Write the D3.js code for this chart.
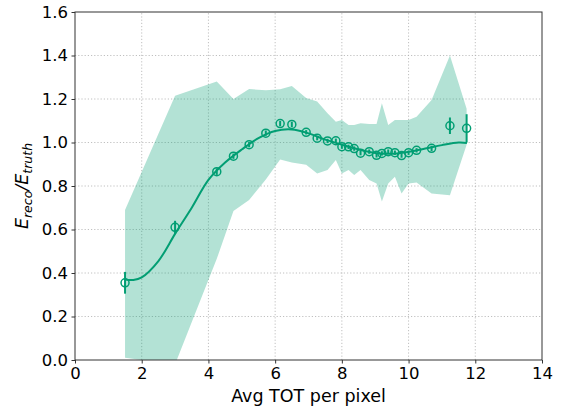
<!DOCTYPE html>
<html>
<head>
<meta charset="utf-8">
<script src="https://cdn.jsdelivr.net/npm/d3@7"></script>
<style>
  body { margin: 0; background: #ffffff; }
  text { font-family: "DejaVu Sans", sans-serif; fill: #000000; }
  .grid line { stroke: #b0b0b0; stroke-width: 0.8; stroke-dasharray: 1.2, 2; }
  .axis path, .axis line { stroke: #333333; }
  .axis text { font-size: 16.5px; }
</style>
</head>
<body>
<div id="chart"></div>
<script>

/// data

// measured points (mean ratio + error)
const pointX   = [1.5, 3.0, 4.25, 4.75, 5.22, 5.72, 6.15, 6.5, 6.93, 7.26, 7.57, 7.82, 8.0, 8.2, 8.37, 8.56, 8.82, 9.04, 9.2, 9.39, 9.59, 9.79, 10.0, 10.24, 10.69, 11.24, 11.74];
const pointY   = [0.355, 0.61, 0.866, 0.937, 0.99, 1.043, 1.087, 1.083, 1.047, 1.02, 1.007, 1.008, 0.981, 0.98, 0.972, 0.951, 0.958, 0.941, 0.95, 0.958, 0.953, 0.94, 0.953, 0.964, 0.973, 1.077, 1.065];
const pointErr = [0.05, 0.03, 0.015, 0.012, 0.012, 0.012, 0.012, 0.012, 0.01, 0.01, 0.01, 0.01, 0.01, 0.01, 0.01, 0.01, 0.01, 0.01, 0.01, 0.01, 0.01, 0.01, 0.01, 0.01, 0.012, 0.038, 0.065];

// spread band
const bandUpper = [0.69, 1.215, 1.28, 1.20, 1.246, 1.24, 1.245, 1.26, 1.205, 1.188, 1.134, 1.095, 1.103, 1.08, 1.08, 1.088, 1.085, 1.085, 1.18, 1.08, 1.103, 1.103, 1.103, 1.118, 1.195, 1.40, 1.155];
const bandLower = [0.01, -0.02, 0.465, 0.685, 0.736, 0.83, 0.922, 0.908, 0.898, 0.857, 0.874, 0.92, 0.858, 0.874, 0.851, 0.874, 0.828, 0.812, 0.729, 0.812, 0.843, 0.766, 0.812, 0.816, 0.766, 0.757, 0.99];

// fitted curve
const fitX = [1.5, 1.75, 2, 2.5, 3, 3.5, 4, 4.5, 5, 5.5, 6, 6.5, 7, 7.5, 8, 8.5, 9, 9.5, 10, 10.5, 11, 11.5, 11.75];
const fitY = [0.37, 0.368, 0.38, 0.455, 0.58, 0.70, 0.828, 0.908, 0.968, 1.02, 1.053, 1.06, 1.042, 1.013, 0.99, 0.968, 0.952, 0.948, 0.957, 0.972, 0.988, 1.0, 0.998];

// ticks
const xTicks = [0, 2, 4, 6, 8, 10, 12, 14];
const yTicks = [0.0, 0.2, 0.4, 0.6, 0.8, 1.0, 1.2, 1.4, 1.6];

///////////////////////////////////////////////////////////////////////////////

var width = 564;
var height = 412;
var colour = '#029e73';

const margin = { top: 12, right: 22, bottom: 52, left: 75 };

var svg = d3.select('#chart').append('svg')
  .attr('width', width)
  .attr('height', height);

let x = d3.scaleLinear()
  .domain([0, 14])
  .range([margin.left, width - margin.right]);

let y = d3.scaleLinear()
  .domain([0, 1.6])
  .range([height - margin.bottom, margin.top]);

svg.append('defs').append('clipPath')
  .attr('id', 'plotArea')
  .append('rect')
  .attr('x', x(0))
  .attr('y', y(1.6))
  .attr('width', x(14) - x(0))
  .attr('height', y(0) - y(1.6));

// grid
let grid = svg.append('g').attr('class', 'grid');

grid.selectAll('line.gx')
  .data(xTicks.slice(1, -1))
  .enter()
  .append('line')
  .attr('x1', d => x(d)).attr('x2', d => x(d))
  .attr('y1', y(0)).attr('y2', y(1.6));

grid.selectAll('line.gy')
  .data(yTicks.slice(1, -1))
  .enter()
  .append('line')
  .attr('x1', x(0)).attr('x2', x(14))
  .attr('y1', d => y(d)).attr('y2', d => y(d));

let plot = svg.append('g').attr('clip-path', 'url(#plotArea)');

// band
let bandData = pointX.map((d, i) => ({ x: d, lo: bandLower[i], hi: bandUpper[i] }));

plot.append('path')
  .datum(bandData)
  .attr('d', d3.area()
    .x(d => x(d.x))
    .y0(d => y(d.lo))
    .y1(d => y(d.hi)))
  .style('fill', colour)
  .style('fill-opacity', 0.3)
  .style('stroke', 'none');

// fit line
let fitData = fitX.map((d, i) => ({ x: d, y: fitY[i] }));

plot.append('path')
  .datum(fitData)
  .attr('d', d3.line()
    .x(d => x(d.x))
    .y(d => y(d.y))
    .curve(d3.curveCatmullRom))
  .style('fill', 'none')
  .style('stroke', colour)
  .style('stroke-width', 2);

// points with error bars
let pts = pointX.map((d, i) => ({ x: d, y: pointY[i], e: pointErr[i] }));

plot.selectAll('line.err')
  .data(pts)
  .enter()
  .append('line')
  .attr('class', 'err')
  .attr('x1', d => x(d.x)).attr('x2', d => x(d.x))
  .attr('y1', d => y(d.y - d.e)).attr('y2', d => y(d.y + d.e))
  .style('stroke', colour)
  .style('stroke-width', 2);

plot.selectAll('circle.pt')
  .data(pts)
  .enter()
  .append('circle')
  .attr('class', 'pt')
  .attr('cx', d => x(d.x))
  .attr('cy', d => y(d.y))
  .attr('r', 4)
  .style('fill', 'none')
  .style('stroke', colour)
  .style('stroke-width', 1.5);

// axes
let xAxis = d3.axisBottom(x).tickValues(xTicks).tickSize(3.5).tickPadding(3.5).tickFormat(d3.format('d'));
let yAxis = d3.axisLeft(y).tickValues(yTicks).tickSize(3.5).tickPadding(3.5).tickFormat(d3.format('.1f'));

svg.append('g')
  .attr('class', 'axis xAxis')
  .attr('transform', `translate(0, ${y(0)})`)
  .call(xAxis)
  .call(g => g.select('.domain').remove());

svg.append('g')
  .attr('class', 'axis yAxis')
  .attr('transform', `translate(${x(0)}, 0)`)
  .call(yAxis)
  .call(g => g.select('.domain').remove());

// frame
svg.append('rect')
  .attr('x', x(0))
  .attr('y', y(1.6))
  .attr('width', x(14) - x(0))
  .attr('height', y(0) - y(1.6))
  .style('fill', 'none')
  .style('stroke', '#333333')
  .style('stroke-width', 1);

// labels
svg.append('text')
  .attr('x', (x(0) + x(14)) / 2)
  .attr('y', height - 10)
  .style('text-anchor', 'middle')
  .style('font-size', '17.5px')
  .text('Avg TOT per pixel');

let yLabel = svg.append('text')
  .attr('transform', `translate(28, ${(y(0) + y(1.6)) / 2}) rotate(-90)`)
  .style('text-anchor', 'middle')
  .style('font-size', '17.5px')
  .style('font-style', 'italic');

yLabel.append('tspan').text('E');
yLabel.append('tspan').attr('dy', 4).style('font-size', '12.5px').text('reco');
yLabel.append('tspan').attr('dy', -4).text('/E');
yLabel.append('tspan').attr('dy', 4).style('font-size', '12.5px').text('truth');

</script>
</body>
</html>
